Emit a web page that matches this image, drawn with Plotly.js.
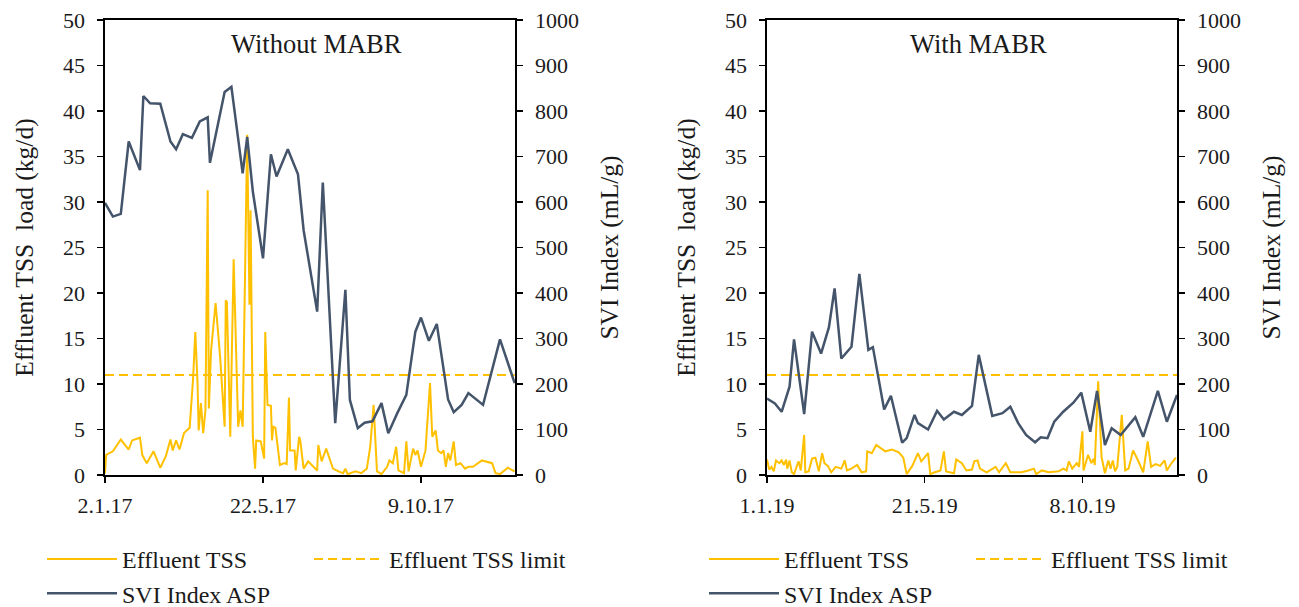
<!DOCTYPE html>
<html>
<head>
<meta charset="utf-8">
<script src="https://cdn.plot.ly/plotly-3.0.1.min.js"></script>
<style>html,body{margin:0;padding:0;background:#fff;}#chart{width:1299px;height:607px;}</style>
</head>
<body>
<div id="chart"></div>
<script>
// ---------- DATA (day of year, values) ----------
const panelTitles = ['Without MABR', 'With MABR'];
const tickDaysL = [2, 142, 282];
const tickTextL = ['2.1.17', '22.5.17', '9.10.17'];
const tickDaysR = [1, 141, 281];
const tickTextR = ['1.1.19', '21.5.19', '8.10.19'];
const tssLimit = 11;           // kg/d
const limitDaysL = [2, 365];
const limitDaysR = [1, 365];

// 2017 – without MABR
const tssDayL = [2,3,9,16,23,26,33,35,39,45,
  51,56,60,62,65,68,72,77,80,82,
  84,85,87,89,91,93,94,96,100,104,
  108,109,110,113,116,120,122,124,128,130,
  131,132,133,135,136,140,143,144,146,149,
  150,151,153,157,161,163,165,166,170,171,
  174,175,178,182,190,191,194,198,204,209,
  213,215,217,224,229,234,237,240,243,247,
  252,254,257,260,262,267,269,271,275,277,
  279,282,286,287,290,292,295,297,300,302,
  304,306,308,311,313,317,321,324,328,336,
  345,348,352,359,365];
const tssL = [0.2,2.2,2.6,3.9,2.8,3.8,4.1,2.2,1.3,2.6,
  0.8,2.1,3.9,2.7,3.8,2.8,4.6,5.2,10.5,15.7,
  10.1,4.9,7.9,4.6,7.1,31.3,7.3,13.7,18.9,13.0,
  5.3,19.2,19.0,4.2,23.7,5.3,7.1,5.3,37.4,18.7,
  29.1,18.5,4.2,0.7,3.8,3.7,1.8,15.7,7.7,7.6,
  3.8,5.3,5.2,1.1,1.3,1.2,8.5,2.7,2.7,0.5,
  4.2,3.8,0.7,1.5,0.5,3.3,1.5,2.9,0.7,0.4,
  0.2,0.7,0.1,0.4,0.2,0.7,3.1,7.7,0.4,0.1,
  0.9,1.6,1.3,3.1,0.5,0.2,3.7,0.4,2.9,2.2,
  2.7,0.9,2.7,4.6,10.1,4.2,4.9,2.7,2.4,2.7,
  0.9,2.4,1.6,3.7,1.1,1.3,0.7,0.9,0.9,1.6,
  1.3,0.2,0.1,0.8,0.4];
const sviDayL = [2,9,16,23,33,36,42,51,60,65,
  71,79,86,93,95,108,114,124,128,133,
  142,149,154,164,173,178,190,195,206,215,
  219,226,232,239,247,253,261,269,277,282,
  289,296,306,311,318,324,337,352,365];
const sviL = [598,568,574,733,670,833,817,816,733,716,
  749,741,777,786,686,842,853,663,743,623,
  476,705,656,716,661,538,359,643,114,407,
  165,103,115,118,158,92,136,176,315,346,
  295,332,166,138,154,180,154,298,202];

// 2019 – with MABR
const tssDayR = [1,3,5,7,9,12,14,16,18,19,
  21,23,25,29,31,34,35,38,41,44,
  47,50,52,55,58,62,67,70,72,76,
  81,85,89,90,94,98,106,112,118,122,
  125,130,135,138,144,146,150,155,158,160,
  167,169,174,178,183,185,188,190,196,204,
  207,213,217,227,233,238,240,245,251,260,
  264,267,269,272,276,278,281,282,286,289,
  291,292,295,298,301,304,306,308,310,312,
  316,319,322,326,330,335,339,342,346,350,
  354,356,359,364];
const tssR = [1.7,0.6,0.9,0.4,1.6,1.3,1.6,1.1,1.7,0.7,
  1.6,0.3,0.1,1.5,0.5,4.4,0.3,0.4,1.8,1.9,
  0.4,2.4,1.3,1.0,0.3,0.9,0.7,1.6,0.5,0.7,
  1.1,0.3,0.4,2.6,2.4,3.3,2.6,2.8,2.5,1.9,
  0.1,1.0,2.4,1.5,2.4,0.1,0.3,0.5,2.6,0.4,
  0.2,1.7,1.3,0.5,0.6,1.5,1.6,0.7,0.3,0.9,
  0.3,1.3,0.3,0.3,0.5,0.7,0.1,0.5,0.3,0.4,
  0.7,0.5,1.5,0.7,1.3,0.9,4.8,0.5,2.2,1.3,
  1.8,1.1,10.3,2.0,0.2,1.6,0.7,1.6,0.4,0.9,
  6.6,0.5,0.7,2.7,1.7,0.3,3.7,0.9,1.2,1.0,
  1.6,0.5,1.1,1.9];
const sviDayR = [1,8,14,21,25,34,41,49,56,61,
  67,76,83,91,95,105,111,121,125,132,
  135,144,152,158,167,174,183,189,201,210,
  217,224,231,239,244,250,256,264,273,280,
  288,294,301,307,315,328,335,348,356,365];
const sviR = [168,157,139,194,298,134,315,267,325,410,
  256,282,442,275,281,144,174,71,81,132,
  114,100,141,122,139,132,152,264,130,136,
  150,114,88,72,83,81,117,139,159,181,
  95,185,66,103,88,127,84,185,117,176];

// ---------- STYLE ----------
const FONT = 'Liberation Serif';
const TXT = '#1a1a1a';
const YEL = '#FFC000';
const DARK = '#44546A';
const W = 1299, H = 607;
const yDom = [1 - 475 / H, 1 - 20 / H];
const xDomL = [105 / W, 515 / W];
const xDomR = [767 / W, 1177 / W];
const rangeL = [2, 365.3];
const rangeR = [1, 365];

const traces = [
  {x: tssDayL, y: tssL, type: 'scatter', mode: 'lines', name: 'Effluent TSS',
   xaxis: 'x', yaxis: 'y', legend: 'legend', line: {color: YEL, width: 2}},
  {x: limitDaysL, y: limitDaysL.map(() => tssLimit), type: 'scatter', mode: 'lines', name: 'Effluent TSS limit',
   xaxis: 'x', yaxis: 'y', legend: 'legend2', line: {color: YEL, width: 2, dash: '9px,5px'}},
  {x: sviDayL, y: sviL, type: 'scatter', mode: 'lines', name: 'SVI Index ASP',
   xaxis: 'x', yaxis: 'y2', legend: 'legend', line: {color: DARK, width: 2.5}},
  {x: tssDayR, y: tssR, type: 'scatter', mode: 'lines', name: 'Effluent TSS',
   xaxis: 'x2', yaxis: 'y3', legend: 'legend3', line: {color: YEL, width: 2}},
  {x: limitDaysR, y: limitDaysR.map(() => tssLimit), type: 'scatter', mode: 'lines', name: 'Effluent TSS limit',
   xaxis: 'x2', yaxis: 'y3', legend: 'legend4', line: {color: YEL, width: 2, dash: '9px,5px'}},
  {x: sviDayR, y: sviR, type: 'scatter', mode: 'lines', name: 'SVI Index ASP',
   xaxis: 'x2', yaxis: 'y4', legend: 'legend3', line: {color: DARK, width: 2.5}}
];

const base = {showgrid: false, zeroline: false, linecolor: '#000', linewidth: 1.6,
  tickcolor: '#000', tickwidth: 1.6, fixedrange: true};

function xAx(dom, rng, tv, tt, anchor) {
  return Object.assign({}, base, {domain: dom, range: rng, anchor: anchor, tickmode: 'array',
    tickvals: tv, ticktext: tt, ticks: 'outside', ticklen: 6, showline: true, mirror: true,
    ticklabelstandoff: 4, tickfont: {family: FONT, size: 22, color: TXT}});
}
function xIn(over, rng, tv, anchor) {
  return Object.assign({}, base, {overlaying: over, range: rng, anchor: anchor, tickmode: 'array',
    tickvals: tv, ticks: 'inside', ticklen: 6, showticklabels: false, showline: false});
}
function yAx(opts) {
  return Object.assign({}, base, {ticks: 'outside', ticklen: 6, showline: true,
    tickmode: 'linear', tick0: 0, ticklabelstandoff: 8,
    tickfont: {family: FONT, size: 22, color: TXT}}, opts);
}
function yIn(opts) {
  return Object.assign({}, base, {ticks: 'inside', ticklen: 6, showline: false,
    showticklabels: false, tickmode: 'linear', tick0: 0}, opts);
}
function tssTitle() {
  return {text: 'Effluent TSS  load (kg/d)', font: {family: FONT, size: 25.5, color: TXT}, standoff: 22};
}
function sviTitle() {
  return {text: 'SVI Index (mL/g)', font: {family: FONT, size: 25.5, color: TXT}, standoff: 22};
}

function leg(xpx, ypx) {
  return {x: xpx / W, y: 1 - ypx / H, xanchor: 'left', yanchor: 'top', orientation: 'v',
    bgcolor: 'rgba(0,0,0,0)', borderwidth: 0, itemwidth: 70, tracegroupgap: 0,
    font: {family: FONT, size: 24, color: TXT}, itemclick: false, itemdoubleclick: false};
}

const layout = {
  width: W, height: H, margin: {l: 0, r: 0, t: 0, b: 0, autoexpand: false},
  paper_bgcolor: '#fff', plot_bgcolor: 'rgba(0,0,0,0)', font: {family: FONT, color: TXT},
  xaxis: xAx(xDomL, rangeL, tickDaysL, tickTextL, 'y'),
  xaxis2: xAx(xDomR, rangeR, tickDaysR, tickTextR, 'y3'),
  xaxis3: xIn('x', rangeL, tickDaysL, 'y'),
  xaxis4: xIn('x2', rangeR, tickDaysR, 'y3'),
  yaxis: yAx({domain: yDom, range: [0, 50], dtick: 5, anchor: 'x', side: 'left', title: tssTitle()}),
  yaxis2: yAx({overlaying: 'y', range: [0, 1000], dtick: 100, anchor: 'x', side: 'right', title: sviTitle()}),
  yaxis3: yAx({domain: yDom, range: [0, 50], dtick: 5, anchor: 'x2', side: 'left', title: tssTitle()}),
  yaxis4: yAx({overlaying: 'y3', range: [0, 1000], dtick: 100, anchor: 'x2', side: 'right', title: sviTitle()}),
  yaxis5: yIn({overlaying: 'y', range: [0, 50], dtick: 5, anchor: 'x', side: 'left'}),
  yaxis6: yIn({overlaying: 'y', range: [0, 1000], dtick: 100, anchor: 'x', side: 'right'}),
  yaxis7: yIn({overlaying: 'y3', range: [0, 50], dtick: 5, anchor: 'x2', side: 'left'}),
  yaxis8: yIn({overlaying: 'y3', range: [0, 1000], dtick: 100, anchor: 'x2', side: 'right'}),
  legend: leg(42, 537),
  legend2: leg(309, 537),
  legend3: leg(704, 537),
  legend4: leg(971, 537),
  showlegend: true,
  annotations: [
    {text: panelTitles[0], xref: 'paper', yref: 'paper', x: 316 / W, y: 1 - 44 / H,
     xanchor: 'center', yanchor: 'middle', showarrow: false, font: {family: FONT, size: 26.5, color: TXT}},
    {text: panelTitles[1], xref: 'paper', yref: 'paper', x: 978 / W, y: 1 - 44 / H,
     xanchor: 'center', yanchor: 'middle', showarrow: false, font: {family: FONT, size: 26.5, color: TXT}}
  ]
};

Plotly.newPlot('chart', traces, layout, {displayModeBar: false, staticPlot: true});
</script>
</body>
</html>
